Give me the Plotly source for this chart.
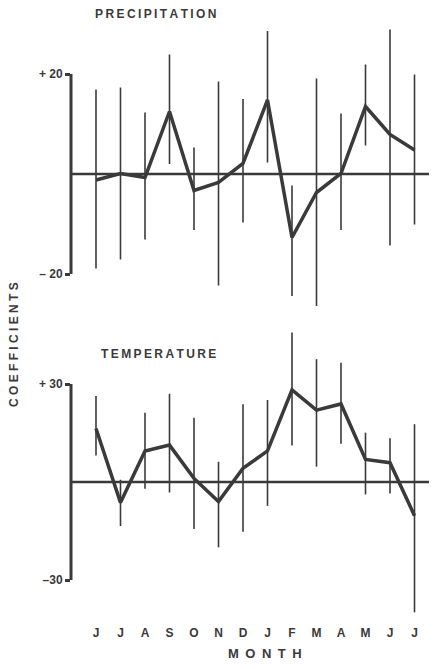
import plotly.graph_objects as go

months = ["J", "J", "A", "S", "O", "N", "D", "J", "F", "M", "A", "M", "J", "J"]
x_idx = list(range(len(months)))

# Precipitation response coefficients with error-bar limits
precip = [-1.2, 0.1, -0.7, 12.5, -3.3, -1.7, 2.1, 14.8, -12.7, -3.7, 0.1, 13.5, 7.9, 4.8]
precip_hi = [16.9, 17.3, 12.3, 23.9, 5.3, 18.5, 15.0, 28.6, -2.3, 19.1, 12.1, 21.9, 28.9, 19.9]
precip_lo = [-18.9, -17.1, -13.1, 2.0, -11.2, -22.3, -9.7, 2.3, -24.4, -26.4, -11.2, 5.7, -14.3, -10.1]

# Temperature response coefficients with error-bar limits
temp = [16.4, -6.3, 9.5, 11.3, 1.1, -6.0, 4.2, 9.5, 28.2, 22.0, 23.9, 6.9, 5.9, -10.3]
temp_hi = [26.3, 0.7, 21.2, 27.0, 19.7, 6.2, 23.8, 25.1, 45.8, 37.6, 36.5, 15.1, 13.4, 17.7]
temp_lo = [8.1, -13.5, -2.1, -3.2, -14.4, -20.0, -15.2, -7.3, 11.2, 4.7, 11.7, -3.8, -3.5, -39.9]

precip_ticks = [20, -20]
precip_ticktext = ["+ 20", "\u2013 20"]
temp_ticks = [30, -30]
temp_ticktext = ["+ 30", "\u201330"]

# page body has an 8px margin on every side: the figure fills what is left
OFF = 8
W, H = 437 - 2 * OFF, 669 - 2 * OFF
INK = "#3a3a3a"
FONT = "Liberation Sans, Arial, sans-serif"


def fx(p):
    return (p - OFF) / W


def fy(p):
    return 1 - (p - OFF) / H


def err(vals, hi, lo):
    return dict(
        type="data", symmetric=False,
        array=[h - v for h, v in zip(hi, vals)],
        arrayminus=[v - l for v, l in zip(vals, lo)],
        color=INK, thickness=1.6, width=0,
    )


fig = go.Figure()
fig.add_trace(go.Scatter(
    x=x_idx, y=precip, mode="lines", xaxis="x", yaxis="y",
    line=dict(color=INK, width=3.5),
    error_y=err(precip, precip_hi, precip_lo), showlegend=False,
))
fig.add_trace(go.Scatter(
    x=x_idx, y=temp, mode="lines", xaxis="x2", yaxis="y2",
    line=dict(color=INK, width=3.5),
    error_y=err(temp, temp_hi, temp_lo), showlegend=False,
))

right_px = OFF + W
xdom = [fx(71), 1.0]
# month index 0 at x=96 px, 24.5 px per month, axis at 71 px
xr = [(71 - 96) / 24.5, (right_px - 96) / 24.5]
# precipitation: zero at y=174 px, 5 px per unit
p_top, p_bot = 20, 320
# temperature: zero at y=482 px, 98 px per 30 units
t_top, t_bot = 325, 624
tk = 98 / 30

tick_font = dict(size=12, family=FONT, weight="bold", color=INK)

fig.update_layout(
    width=W, height=H,
    margin=dict(l=0, r=0, t=0, b=0),
    paper_bgcolor="white", plot_bgcolor="rgba(0,0,0,0)",
    font=dict(family=FONT, color=INK),
    xaxis=dict(domain=xdom, range=xr, visible=False, anchor="y"),
    yaxis=dict(
        domain=[fy(p_bot), fy(p_top)],
        range=[(174 - p_bot) / 5, (174 - p_top) / 5],
        tickvals=precip_ticks, ticktext=precip_ticktext,
        ticks="outside", ticklen=5, tickwidth=2.5, tickcolor=INK,
        showgrid=False, zeroline=False, showline=False,
        tickfont=tick_font, anchor="x",
    ),
    xaxis2=dict(
        domain=xdom, range=xr, anchor="y2",
        tickvals=x_idx, ticktext=months, ticks="",
        showgrid=False, zeroline=False, showline=False,
        tickfont=dict(size=12, family=FONT, weight="bold", color=INK),
    ),
    yaxis2=dict(
        domain=[fy(t_bot), fy(t_top)],
        range=[(482 - t_bot) / tk, (482 - t_top) / tk],
        tickvals=temp_ticks, ticktext=temp_ticktext,
        ticks="outside", ticklen=5, tickwidth=2.5, tickcolor=INK,
        showgrid=False, zeroline=False, showline=False,
        tickfont=tick_font, anchor="x2",
    ),
)

shapes = [
    # bracket axes
    dict(type="line", xref="x domain", yref="y", x0=0, x1=0, y0=-20, y1=20,
         line=dict(color=INK, width=3)),
    dict(type="line", xref="x2 domain", yref="y2", x0=0, x1=0, y0=-30, y1=30,
         line=dict(color=INK, width=3)),
    # zero lines
    dict(type="line", xref="x domain", yref="y", x0=0, x1=1, y0=0, y1=0,
         line=dict(color=INK, width=2.5)),
    dict(type="line", xref="x2 domain", yref="y2", x0=0, x1=1, y0=0, y1=0,
         line=dict(color=INK, width=2.5)),
]
fig.update_layout(shapes=shapes)


def spaced(s, sep="\u2009"):
    return sep.join(list(s))


ann_font = dict(size=12, family=FONT, weight="bold", color=INK)
common = dict(xref="paper", yref="paper", showarrow=False,
              xanchor="center", yanchor="middle")
fig.add_annotation(text=spaced("PRECIPITATION"), x=fx(156), y=fy(14),
                   font=ann_font, **common)
fig.add_annotation(text=spaced("TEMPERATURE"), x=fx(158), y=fy(354),
                   font=ann_font, **common)
fig.add_annotation(text=spaced("COEFFICIENTS", "\u2008"), x=fx(14), y=fy(345),
                   textangle=-90, font=dict(size=12, family=FONT, weight="bold", color=INK),
                   **common)
fig.add_annotation(text=spaced("MONTH", "\u2002"), x=fx(265), y=fy(653),
                   font=dict(size=13, family=FONT, weight="bold", color=INK), **common)

fig.write_html("out.html")
